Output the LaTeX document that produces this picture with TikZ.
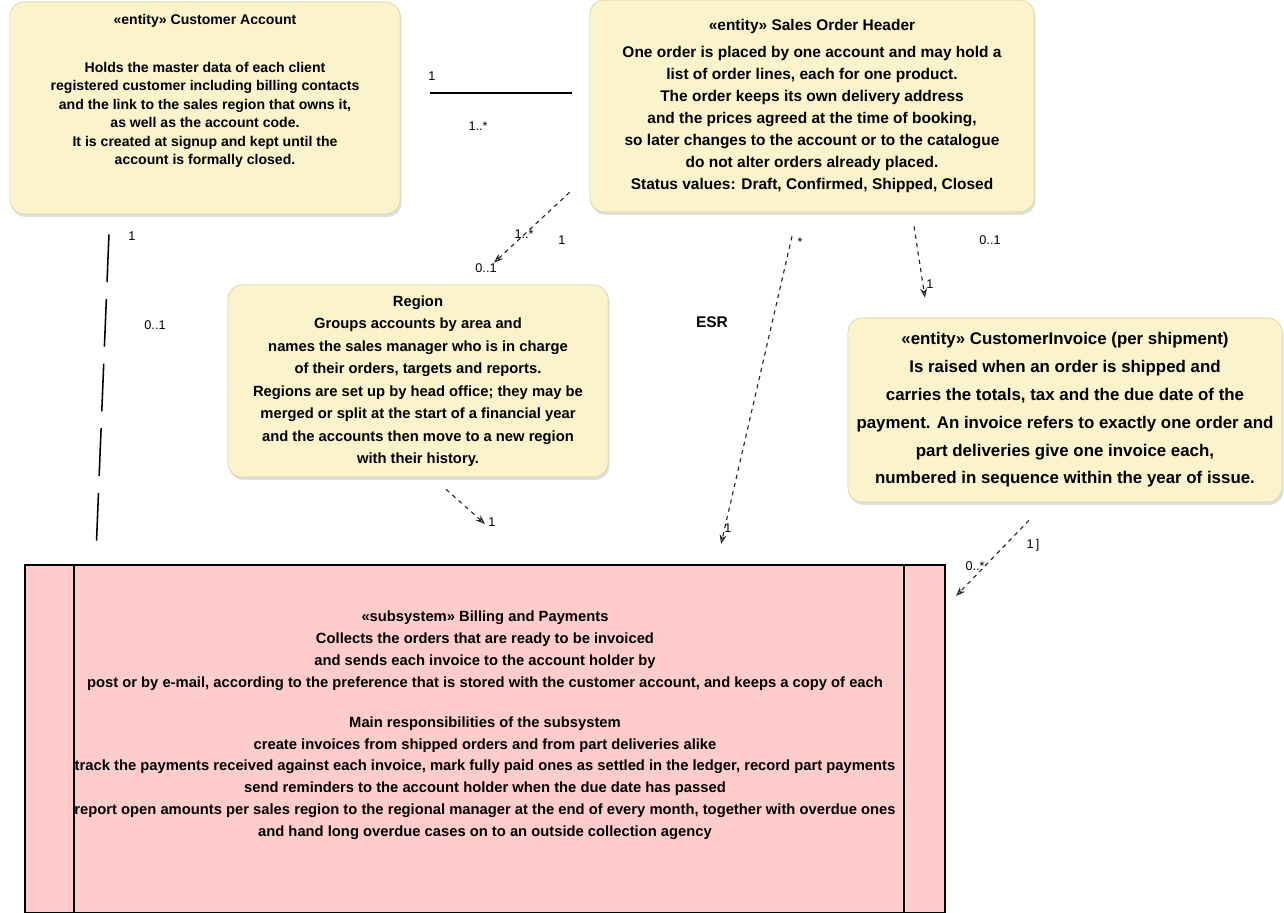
\documentclass[tikz,border=0pt]{standalone}
\usepackage{fontspec}
\setmainfont{Liberation Sans}
\usetikzlibrary{shadows,arrows.meta}

\definecolor{noteyellow}{RGB}{251,243,204}
\definecolor{noteedge}{RGB}{214,204,158}
\definecolor{compink}{RGB}{255,204,204}

\tikzset{
  notebox/.style={draw=noteedge, fill=noteyellow, rounded corners=10pt, align=center,
    inner sep=4pt,
    drop shadow={opacity=0.25, shadow xshift=1pt, shadow yshift=-2pt}},
  compbox/.style={draw=black, line width=1.4pt, fill=compink, align=center,
    font=\fontsize{10.5}{15.6}\selectfont\bfseries},
  assoc/.style={draw=black, line width=1.3pt},
  dep/.style={draw=black!85, dashed, line width=0.8pt, -{Stealth[open]}},
  mult/.style={font=\fontsize{9}{10}\selectfont, inner sep=1pt}
}

\begin{document}
\begin{tikzpicture}[x=0.025cm, y=-0.025cm]
  \useasboundingbox (0,0) rectangle (1284,913);

  \node[notebox, minimum width=9.75cm, minimum height=5.3cm,
        font=\fontsize{10}{13.1}\selectfont\bfseries] (acct) at (205,108) {%
    \guillemotleft entity\guillemotright\ Customer Account\\[21pt]
    Holds the master data of each client\\
    registered customer including billing contacts\\
    and the link to the sales region that owns it,\\
    as well as the account code.\\
    It is created at signup and kept until the\\
    account is formally closed.\\[9.5pt]\strut};

  \node[notebox, minimum width=11.1cm, minimum height=5.3cm,
        font=\fontsize{11}{15.6}\selectfont\bfseries] (order) at (812,106) {%
    \guillemotleft entity\guillemotright\ Sales Order Header\\[4pt]
    One order is placed by one account and may hold a\\
    list of order lines, each for one product.\\
    The order keeps its own delivery address\\
    and the prices agreed at the time of booking,\\
    so later changes to the account or to the catalogue\\
    do not alter orders already placed.\\
    Status values: Draft, Confirmed, Shipped, Closed};

  \node[notebox, minimum width=9.5cm, minimum height=4.8cm,
        font=\fontsize{10.5}{16}\selectfont\bfseries] (region) at (418,381) {%
    Region\\
    Groups accounts by area and\\
    names the sales manager who is in charge\\
    of their orders, targets and reports.\\
    Regions are set up by head office; they may be\\
    merged or split at the start of a financial year\\
    and the accounts then move to a new region\\
    with their history.};

  \node[notebox, minimum width=10.85cm, minimum height=4.6cm,
        font=\fontsize{12}{19.8}\selectfont\bfseries] (invoice) at (1065,410) {%
    \guillemotleft entity\guillemotright\ CustomerInvoice (per shipment)\\
    Is raised when an order is shipped and\\
    carries the totals, tax and the due date of the\\
    payment. An invoice refers to exactly one order and\\
    part deliveries give one invoice each,\\
    numbered in sequence within the year of issue.};

  \node[compbox, minimum width=23cm, minimum height=8.7cm] (billing) at (485,739) {%
    \guillemotleft subsystem\guillemotright\ Billing and Payments\\
    Collects the orders that are ready to be invoiced\\
    and sends each invoice to the account holder by\\
    post or by e-mail, according to the preference that is stored with the customer account, and keeps a copy of each\\[12.7pt]
    Main responsibilities of the subsystem\\
    create invoices from shipped orders and from part deliveries alike\\
    track the payments received against each invoice, mark fully paid ones as settled in the ledger, record part payments\\
    send reminders to the account holder when the due date has passed\\
    report open amounts per sales region to the regional manager at the end of every month, together with overdue ones\\
    and hand long overdue cases on to an outside collection agency\\[1.4pt]\strut};
  \draw[line width=1.4pt] (billing.north west) ++(50,0) -- ++(0,348);
  \draw[line width=1.4pt] (billing.north east) ++(-42,0) -- ++(0,348);

  % connectors
  \draw[assoc, shorten <=30*0.025cm, shorten >=18*0.025cm] (acct.east |- 0,93) -- (order.west |- 0,93);
  \node[mult] at (432,76) {1};
  \node[mult] at (478,126) {1..*};

  \draw[dep] ([xshift=-0.5cm, yshift=0.5cm]order.south west) -- ([xshift=1.9cm, yshift=0.55cm]region.north);
  \node[mult] at (524,234) {1..*};
  \node[mult] at (562,240) {1};
  \node[mult] at (486,268) {0..1};

  \draw[dep] ([xshift=-0.5cm, yshift=-0.6cm]order.south) -- ([xshift=5.9cm, yshift=0.5cm]billing.north);
  \node[mult, font=\fontsize{11}{12}\selectfont\bfseries] at (712,322) {ESR};
  \node[mult] at (800,242) {*};
  \node[mult] at (728,528) {1};

  \draw[dep] ([xshift=2.55cm, yshift=-0.35cm]order.south) -- ([xshift=-3.5cm, yshift=0.5cm]invoice.north);
  \node[mult] at (990,240) {0..1};
  \node[mult] at (930,284) {1};

  \draw[dep] ([xshift=-0.9cm, yshift=-0.45cm]invoice.south) -- ([xshift=0.25cm, yshift=-0.8cm]billing.north east);
  \node[mult] at (1033,545) {1\,]};
  \node[mult] at (975,566) {0..*};

  \draw[dep] ([xshift=0.7cm, yshift=-0.3cm]region.south) -- ([xshift=0cm, yshift=1cm]billing.north);
  \node[mult] at (492,522) {1};

  \draw[draw=black, line width=1.1pt, dash pattern=on 34pt off 12pt] ([xshift=-2.4cm, yshift=-0.5cm]acct.south) -- ([xshift=1.8cm, yshift=0.2cm]billing.north west);
  \node[mult] at (155,325) {0..1};
  \node[mult] at (132,236) {1};
\end{tikzpicture}
\end{document}
